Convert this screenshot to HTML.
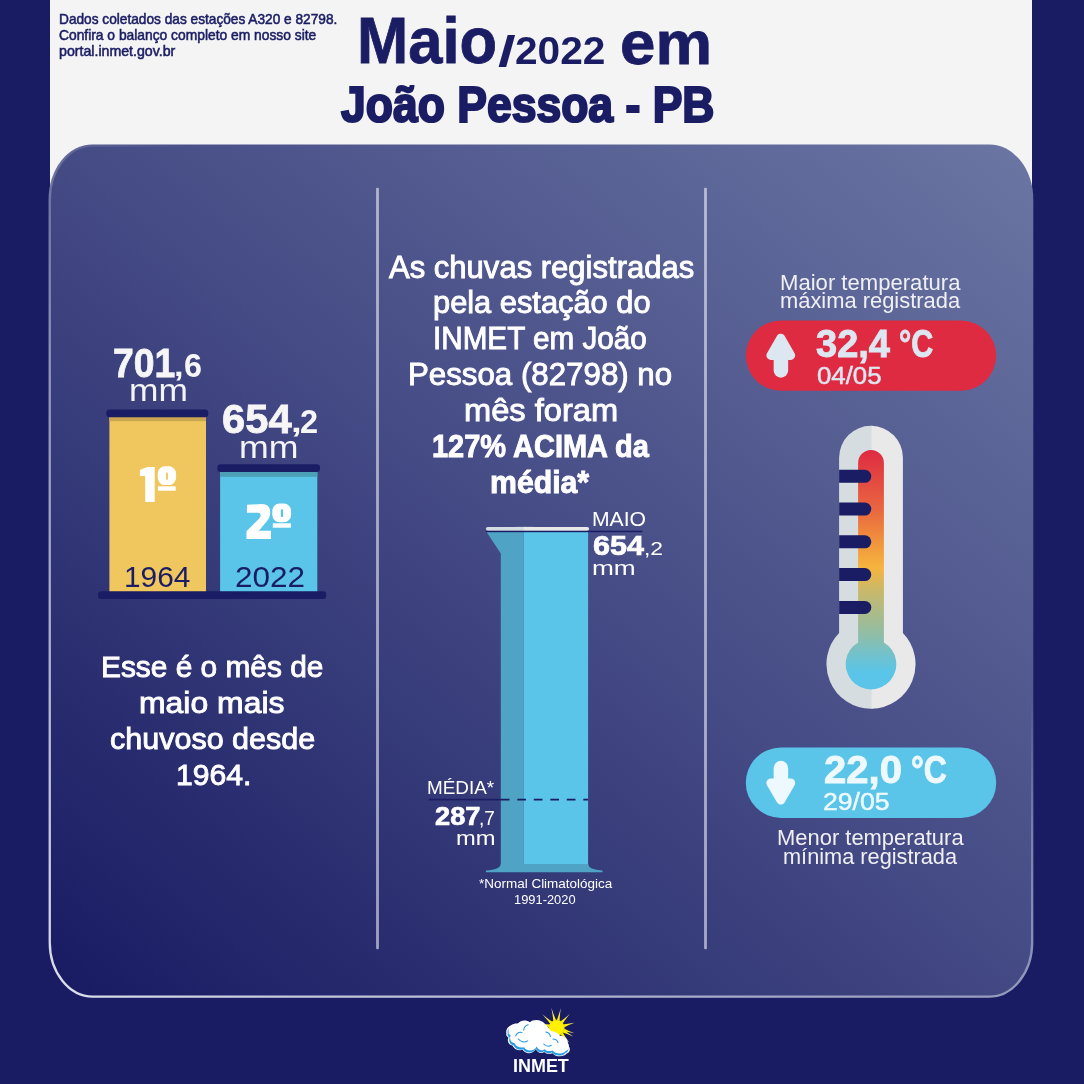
<!DOCTYPE html>
<html lang="pt-BR">
<head>
<meta charset="utf-8">
<title>Maio/2022 em João Pessoa - PB</title>
<style>
html,body{margin:0;padding:0;}
body{width:1084px;height:1084px;overflow:hidden;background:#191c63;font-family:"Liberation Sans",sans-serif;}
#root{position:relative;width:1084px;height:1084px;overflow:hidden;background:#191c63;}
#hdr{position:absolute;left:50px;top:0;width:982px;height:220px;background:#f4f4f4;}
.t{will-change:opacity;position:absolute;white-space:nowrap;line-height:0;transform-origin:0 0;margin:0;padding:0;}
svg{position:absolute;left:0;top:0;}
</style>
</head>
<body>
<div id="root">
<div id="hdr"></div>

<svg width="1084" height="1084" viewBox="0 0 1084 1084">
<defs>
<linearGradient id="pg" gradientUnits="userSpaceOnUse" x1="128.3" y1="1062.8" x2="953.7" y2="79.2">
<stop offset="0.02" stop-color="#191c63"/>
<stop offset="0.51" stop-color="#454b85"/>
<stop offset="1" stop-color="#6b76a3"/>
</linearGradient>
<linearGradient id="bd" gradientUnits="userSpaceOnUse" x1="50" y1="997" x2="479.1" y2="337.9">
<stop offset="0" stop-color="#e2e8f0" stop-opacity="0.97"/>
<stop offset="0.682" stop-color="#dde3ec" stop-opacity="0.52"/>
<stop offset="0.86" stop-color="#dde3ec" stop-opacity="0.3"/>
<stop offset="1" stop-color="#dde3ec" stop-opacity="0"/>
</linearGradient>
<radialGradient id="ray" gradientUnits="userSpaceOnUse" cx="730" cy="335" r="245">
<stop offset="0.55" stop-color="#fff200"/>
<stop offset="1" stop-color="#fffbd0"/>
</radialGradient>
<linearGradient id="thg" gradientUnits="userSpaceOnUse" x1="0" y1="450" x2="0" y2="690">
<stop offset="0" stop-color="#de2b42"/>
<stop offset="0.25" stop-color="#e9673f"/>
<stop offset="0.40" stop-color="#f2993c"/>
<stop offset="0.49" stop-color="#f6b43e"/>
<stop offset="0.585" stop-color="#c9b86a"/>
<stop offset="0.75" stop-color="#96bd9f"/>
<stop offset="0.835" stop-color="#78c1c4"/>
<stop offset="0.925" stop-color="#5ac5e8"/>
<stop offset="1" stop-color="#5ac5e8"/>
</linearGradient>
</defs>
<!-- panel -->
<rect x="48.6" y="144.4" width="984.7" height="853.4" rx="44" ry="55" fill="url(#pg)"/>
<rect x="49.75" y="145.5" width="982.4" height="851.1" rx="43" ry="54" fill="none" stroke="url(#bd)" stroke-width="2.3"/>
<!-- dividers -->
<rect x="376.1" y="187.7" width="2.8" height="761.5" rx="1" fill="#fff" fill-opacity="0.56"/>
<rect x="704.1" y="187.7" width="2.8" height="761.5" rx="1" fill="#fff" fill-opacity="0.56"/>

<!-- left bars -->
<rect x="109.4" y="413" width="96.6" height="180" fill="#f0c75e"/>
<rect x="109.4" y="413" width="96.6" height="8.2" fill="#cba552"/>
<rect x="106.3" y="409.6" width="102" height="7.6" rx="3.2" fill="#1a1d63"/>
<rect x="220.1" y="468" width="97.2" height="125" fill="#5ac5e8"/>
<rect x="220.1" y="468" width="97.2" height="8.8" fill="#4b9fb6"/>
<rect x="217.3" y="464.2" width="102.7" height="7.8" rx="3.2" fill="#1a1d63"/>
<rect x="98" y="591.3" width="228.2" height="7.6" rx="3.2" fill="#1a1d63"/>
<!-- ordinal marks -->
<path fill="#fff" d="M139.9 469.9 L147.1 466.9 L154.7 466.9 L154.7 502 L145.2 502 L145.2 475.9 L139.9 475.9 Z"/>
<path fill="#fff" fill-rule="evenodd" d="M164.90 466.20 h4.00 a7.20 7.56 0 0 1 7.20 7.56 v3.78 a7.20 7.56 0 0 1 -7.20 7.56 h-4.00 a7.20 7.56 0 0 1 -7.20 -7.56 v-3.78 a7.20 7.56 0 0 1 7.20 -7.56 z M166.95 472.50 a0.90 0.90 0 0 0 -0.95 0.90 v5.50 a0.90 0.90 0 0 0 0.95 0.90 a0.90 0.90 0 0 0 0.95 -0.90 v-5.50 a0.90 0.90 0 0 0 -0.95 -0.90 z"/>
<rect x="157.9" y="486.3" width="17.8" height="4.4" fill="#fff"/>
<path fill="#fff" transform="translate(240,497) scale(0.05165)" d="M135 150 L430 135 Q585 135 585 300 Q585 400 520 470 L365 655 L600 655 L600 815 L125 815 L125 665 L370 420 Q405 380 400 350 Q395 305 350 305 L135 305 Z"/>
<path fill="#fff" fill-rule="evenodd" d="M279.50 503.50 h4.40 a7.20 7.56 0 0 1 7.20 7.56 v3.68 a7.20 7.56 0 0 1 -7.20 7.56 h-4.40 a7.20 7.56 0 0 1 -7.20 -7.56 v-3.68 a7.20 7.56 0 0 1 7.20 -7.56 z M281.95 509.40 a0.90 0.90 0 0 0 -1.15 0.90 v5.70 a0.90 0.90 0 0 0 1.15 0.90 a0.90 0.90 0 0 0 1.15 -0.90 v-5.70 a0.90 0.90 0 0 0 -1.15 -0.90 z"/>
<rect x="272.8" y="523.3" width="18.1" height="4.4" fill="#fff"/>

<!-- gauge -->
<rect x="523.9" y="531" width="64.2" height="336" fill="#5ac5e8"/>
<path d="M485.9 531 L523.9 531 L523.9 867 L500.8 867 L500.8 553.6 Z" fill="#4fa3c4"/>
<path d="M500.8 864 L588.1 864 Q588.6 869.6 602.5 870.6 L602.5 872.3 L485.9 872.3 L485.9 870.6 Q500.3 869.6 500.8 864 Z" fill="#4fa3c4"/>
<rect x="485.9" y="526.9" width="40" height="4" rx="1.8" fill="#d3dce0"/>
<rect x="522" y="526.9" width="67.1" height="4" rx="1.8" fill="#e9e9e9"/>
<rect x="516" y="526.9" width="10" height="4" fill="#d3dce0"/>
<rect x="523.9" y="526.9" width="10" height="4" fill="#e9e9e9"/>
<rect x="485.9" y="530.7" width="156.5" height="1.5" fill="#1a1d63"/>
<rect x="428.7" y="798.8" width="72.1" height="1.6" fill="#1a1d63"/>
<path d="M500.8 799.6 H588.1" stroke="#1a1d63" stroke-width="1.6" stroke-dasharray="8.7 7.8" fill="none"/>

<!-- pills -->
<rect x="745.8" y="320.5" width="250.4" height="70.2" rx="35.1" fill="#de2b42"/>
<rect x="745.8" y="747.5" width="250.4" height="70.4" rx="35.2" fill="#5ac5e8"/>
<!-- arrows -->
<g fill="#dde7f1" stroke="#dde7f1" stroke-linejoin="round" stroke-linecap="round">
<path d="M780.8 338.2 L790.7 355.4 L770.9 355.4 Z" stroke-width="9"/>
<path d="M780.9 357 L780.9 370.4" stroke-width="14.5" fill="none"/>
</g>
<g fill="#eef9ff" stroke="#eef9ff" stroke-linejoin="round" stroke-linecap="round">
<path d="M780.8 800.1 L790.7 782.9 L770.9 782.9 Z" stroke-width="9"/>
<path d="M780.9 781 L780.9 768.1" stroke-width="14.5" fill="none"/>
</g>

<!-- thermometer -->
<g>
<path d="M872.6 425.8 L871 425.8 A31.85 31.85 0 0 0 839.1 457.6 L839.1 633 A44.6 44.6 0 0 0 871 708.7 L872.6 708.7 Z" fill="#d5dde0"/>
<path d="M871.6 425.8 A31.85 31.85 0 0 1 902.9 457.6 L902.9 633 A44.6 44.6 0 0 1 871.6 708.7 Z" fill="#e9e9e9"/>
<path d="M858.1 462.9 A12.9 12.9 0 0 1 883.9 462.9 L883.9 642.4 A25.3 25.3 0 1 1 858.1 642.4 Z" fill="url(#thg)"/>
<path d="M839.1 469.8 H864.8 a6.5 6.5 0 0 1 0 13 H839.1 Z" fill="#1a1d63"/>
<path d="M839.1 502.6 H864.8 a6.5 6.5 0 0 1 0 13 H839.1 Z" fill="#1a1d63"/>
<path d="M839.1 535.3 H864.8 a6.5 6.5 0 0 1 0 13 H839.1 Z" fill="#1a1d63"/>
<path d="M839.1 568.1 H864.8 a6.5 6.5 0 0 1 0 13 H839.1 Z" fill="#1a1d63"/>
<path d="M839.1 600.9 H864.8 a6.5 6.5 0 0 1 0 13 H839.1 Z" fill="#1a1d63"/>
</g>

<!-- INMET logo -->
<g transform="translate(496,1000) scale(0.08306)">
<g fill="url(#ray)">
<path d="M729 253 Q700 198 666 94 Q688 201 690 263 Z"/>
<path d="M766 261 Q765 199 780 100 Q753 197 727 253 Z"/>
<path d="M799 290 Q830 237 890 165 Q822 229 770 263 Z"/>
<path d="M812 333 Q866 303 945 275 Q863 292 802 294 Z"/>
<path d="M801 377 Q862 381 945 400 Q866 370 812 339 Z"/>
<path d="M792 389 Q852 404 931 438 Q857 393 810 353 Z"/>
<path d="M685 266 Q632 235 555 170 Q624 243 658 295 Z"/>
<path d="M658 294 Q597 292 548 285 Q593 304 648 333 Z"/>
<path d="M767 408 Q817 445 885 514 Q826 437 798 382 Z"/>
<path d="M648 329 Q591 353 563 365 Q593 365 655 369 Z"/>
</g>
<circle cx="730" cy="335" r="93" fill="#fff200" stroke="#c9b800" stroke-width="5"/>
<path id="cl" fill="#fff" d="M125 400 C110 330 180 290 250 300 C270 255 350 250 395 285 C430 240 540 245 580 300 C620 330 640 370 660 395 C720 400 760 430 775 455 C830 450 880 500 870 550 C905 580 890 640 850 645 C820 690 720 690 680 640 C650 655 600 650 580 625 C550 650 500 640 480 590 C450 650 360 660 320 600 C280 610 220 600 200 550 C150 540 130 490 150 450 C125 440 120 420 125 400 Z"/>
<path fill="#2a9be0" transform="translate(500,470) scale(0.955) translate(-500,-470)" d="M125 400 C110 330 180 290 250 300 C270 255 350 250 395 285 C430 240 540 245 580 300 C620 330 640 370 660 395 C720 400 760 430 775 455 C830 450 880 500 870 550 C905 580 890 640 850 645 C820 690 720 690 680 640 C650 655 600 650 580 625 C550 650 500 640 480 590 C450 650 360 660 320 600 C280 610 220 600 200 550 C150 540 130 490 150 450 C125 440 120 420 125 400 Z"/>
<path fill="#fff" transform="translate(509,445) scale(0.95) translate(-500,-470)" d="M125 400 C110 330 180 290 250 300 C270 255 350 250 395 285 C430 240 540 245 580 300 C620 330 640 370 660 395 C720 400 760 430 775 455 C830 450 880 500 870 550 C905 580 890 640 850 645 C820 690 720 690 680 640 C650 655 600 650 580 625 C550 650 500 640 480 590 C450 650 360 660 320 600 C280 610 220 600 200 550 C150 540 130 490 150 450 C125 440 120 420 125 400 Z"/>
<g fill="none" stroke="#2a9be0" stroke-width="13" stroke-linecap="round">
<path d="M238 432 C245 395 285 380 312 392"/>
<path d="M270 470 C300 512 350 512 382 492"/>
<path d="M333 362 C338 322 368 302 386 297"/>
<path d="M600 385 C630 390 650 412 655 440"/>
<path d="M575 530 C600 560 640 560 665 545"/>
<path d="M685 470 C720 470 740 490 746 512"/>
</g>
</g>
</svg>

<div class="t" style="left:58.65px;top:19.17px;font-size:14.50px;font-weight:400;color:#1a1d63;transform:scaleX(0.9433);-webkit-text-stroke:0.55px #1a1d63;">Dados coletados das estações A320 e 82798.</div>
<div class="t" style="left:59.08px;top:34.87px;font-size:14.50px;font-weight:400;color:#1a1d63;transform:scaleX(0.9527);-webkit-text-stroke:0.55px #1a1d63;">Confira o balanço completo em nosso site</div>
<div class="t" style="left:58.85px;top:50.97px;font-size:14.50px;font-weight:400;color:#1a1d63;transform:scaleX(0.9771);-webkit-text-stroke:0.55px #1a1d63;">portal.inmet.gov.br</div>
<div class="t" style="left:356.95px;top:41.31px;font-size:64.80px;font-weight:700;color:#1a1d63;transform:scaleX(0.9490);-webkit-text-stroke:0.80px #1a1d63;">Maio</div>
<div class="t" style="left:497.66px;top:51.48px;font-size:43.00px;font-weight:700;color:#1a1d63;transform:scaleX(1.4811);">/</div>
<div class="t" style="left:515.18px;top:50.26px;font-size:39.30px;font-weight:700;color:#1a1d63;transform:scaleX(1.0344);">2022</div>
<div class="t" style="left:620.01px;top:42.91px;font-size:60.50px;font-weight:700;color:#1a1d63;transform:scaleX(1.0520);-webkit-text-stroke:0.80px #1a1d63;">em</div>
<div class="t" style="left:340.93px;top:105.03px;font-size:49.20px;font-weight:700;color:#1a1d63;transform:scaleX(0.9047);-webkit-text-stroke:2.20px #1a1d63;">João Pessoa - PB</div>
<div class="t" style="left:113.11px;top:363.00px;font-size:41.50px;font-weight:700;color:#f6f6f6;transform:scaleX(0.8991);-webkit-text-stroke:0.80px #f6f6f6;">701</div>
<div class="t" style="left:173.67px;top:366.58px;font-size:28.00px;font-weight:700;color:#f6f6f6;transform:scaleX(1.2315);">,</div>
<div class="t" style="left:183.57px;top:365.72px;font-size:32.50px;font-weight:700;color:#f6f6f6;transform:scaleX(0.9960);">6</div>
<div class="t" style="left:128.60px;top:391.07px;font-size:31.20px;font-weight:400;color:#f4f4f4;transform:scaleX(1.1338);">mm</div>
<div class="t" style="left:222.24px;top:419.10px;font-size:41.50px;font-weight:700;color:#f6f6f6;transform:scaleX(1.0052);-webkit-text-stroke:0.80px #f6f6f6;">654</div>
<div class="t" style="left:290.99px;top:422.68px;font-size:28.00px;font-weight:700;color:#f6f6f6;transform:scaleX(1.3793);">,</div>
<div class="t" style="left:300.16px;top:421.82px;font-size:32.50px;font-weight:700;color:#f6f6f6;transform:scaleX(1.0012);">2</div>
<div class="t" style="left:239.08px;top:448.27px;font-size:31.20px;font-weight:400;color:#f4f4f4;transform:scaleX(1.1442);">mm</div>
<div class="t" style="left:123.86px;top:576.56px;font-size:29.50px;font-weight:400;color:#1a1d63;transform:scaleX(1.0122);">1964</div>
<div class="t" style="left:234.72px;top:576.56px;font-size:29.50px;font-weight:400;color:#1a1d63;transform:scaleX(1.0688);">2022</div>
<div class="t" style="left:101.19px;top:667.03px;font-size:29.60px;font-weight:400;color:#fff;transform:scaleX(1.0090);-webkit-text-stroke:0.90px #fff;">Esse é o mês de</div>
<div class="t" style="left:139.37px;top:703.13px;font-size:29.60px;font-weight:400;color:#fff;transform:scaleX(1.0785);-webkit-text-stroke:0.90px #fff;">maio mais</div>
<div class="t" style="left:110.25px;top:739.33px;font-size:29.60px;font-weight:400;color:#fff;transform:scaleX(1.0308);-webkit-text-stroke:0.90px #fff;">chuvoso desde</div>
<div class="t" style="left:175.79px;top:775.43px;font-size:29.60px;font-weight:400;color:#fff;transform:scaleX(1.0175);-webkit-text-stroke:0.90px #fff;">1964.</div>
<div class="t" style="left:388.87px;top:266.62px;font-size:30.50px;font-weight:400;color:#fff;transform:scaleX(1.0174);-webkit-text-stroke:0.90px #fff;">As chuvas registradas</div>
<div class="t" style="left:432.65px;top:302.22px;font-size:30.50px;font-weight:400;color:#fff;transform:scaleX(1.0102);-webkit-text-stroke:0.90px #fff;">pela estação do</div>
<div class="t" style="left:433.41px;top:338.12px;font-size:30.50px;font-weight:400;color:#fff;transform:scaleX(0.9726);-webkit-text-stroke:0.90px #fff;">INMET em João</div>
<div class="t" style="left:408.27px;top:373.72px;font-size:30.50px;font-weight:400;color:#fff;transform:scaleX(1.0248);-webkit-text-stroke:0.90px #fff;">Pessoa (82798) no</div>
<div class="t" style="left:463.53px;top:409.72px;font-size:30.50px;font-weight:400;color:#fff;transform:scaleX(1.0695);-webkit-text-stroke:0.90px #fff;">mês foram</div>
<div class="t" style="left:431.94px;top:446.22px;font-size:30.50px;font-weight:700;color:#fff;transform:scaleX(0.9499);-webkit-text-stroke:0.90px #fff;">127% ACIMA da</div>
<div class="t" style="left:490.49px;top:481.82px;font-size:30.50px;font-weight:700;color:#fff;transform:scaleX(0.9910);-webkit-text-stroke:0.90px #fff;">média*</div>
<div class="t" style="left:592.25px;top:519.06px;font-size:19.70px;font-weight:400;color:#fff;transform:scaleX(1.0738);">MAIO</div>
<div class="t" style="left:593.28px;top:546.43px;font-size:27.00px;font-weight:700;color:#fff;transform:scaleX(1.1293);-webkit-text-stroke:0.70px #fff;">654</div>
<div class="t" style="left:644.24px;top:549.21px;font-size:19.00px;font-weight:400;color:#fff;transform:scaleX(1.2041);">,2</div>
<div class="t" style="left:592.29px;top:567.81px;font-size:21.00px;font-weight:400;color:#fff;transform:scaleX(1.2502);">mm</div>
<div class="t" style="left:427.14px;top:788.14px;font-size:19.20px;font-weight:400;color:#fff;transform:scaleX(0.9837);">MÉDIA*</div>
<div class="t" style="left:434.50px;top:815.58px;font-size:26.00px;font-weight:700;color:#fff;transform:scaleX(1.0474);-webkit-text-stroke:0.70px #fff;">287</div>
<div class="t" style="left:478.69px;top:817.83px;font-size:19.50px;font-weight:400;color:#fff;transform:scaleX(0.9740);">,7</div>
<div class="t" style="left:456.26px;top:837.91px;font-size:21.00px;font-weight:400;color:#fff;transform:scaleX(1.1292);">mm</div>
<div class="t" style="left:478.50px;top:884.09px;font-size:13.00px;font-weight:400;color:#fff;transform:scaleX(1.0363);">*Normal Climatológica</div>
<div class="t" style="left:513.93px;top:900.09px;font-size:13.00px;font-weight:400;color:#fff;transform:scaleX(0.9905);">1991-2020</div>
<div class="t" style="left:779.68px;top:282.74px;font-size:21.50px;font-weight:400;color:#f0f0f4;transform:scaleX(1.0274);">Maior temperatura</div>
<div class="t" style="left:780.08px;top:301.04px;font-size:21.50px;font-weight:400;color:#f0f0f4;transform:scaleX(1.0183);">máxima registrada</div>
<div class="t" style="left:816.19px;top:344.14px;font-size:38.80px;font-weight:700;color:#dde7f1;transform:scaleX(0.9799);-webkit-text-stroke:0.90px #dde7f1;">32,4</div>
<div class="t" style="left:899.05px;top:344.14px;font-size:38.80px;font-weight:700;color:#dde7f1;transform:scaleX(0.7861);-webkit-text-stroke:0.90px #dde7f1;">°C</div>
<div class="t" style="left:816.56px;top:375.62px;font-size:23.00px;font-weight:400;color:#dde7f1;transform:scaleX(1.1215);-webkit-text-stroke:0.45px #dde7f1;">04/05</div>
<div class="t" style="left:824.15px;top:769.54px;font-size:38.80px;font-weight:700;color:#eef9ff;transform:scaleX(1.0323);-webkit-text-stroke:0.90px #eef9ff;">22,0</div>
<div class="t" style="left:910.69px;top:769.54px;font-size:38.80px;font-weight:700;color:#eef9ff;transform:scaleX(0.8228);-webkit-text-stroke:0.90px #eef9ff;">°C</div>
<div class="t" style="left:823.20px;top:801.72px;font-size:23.00px;font-weight:400;color:#eef9ff;transform:scaleX(1.1561);-webkit-text-stroke:0.45px #eef9ff;">29/05</div>
<div class="t" style="left:776.69px;top:838.04px;font-size:21.50px;font-weight:400;color:#f0f0f4;transform:scaleX(1.0205);">Menor temperatura</div>
<div class="t" style="left:783.19px;top:856.94px;font-size:21.50px;font-weight:400;color:#f0f0f4;transform:scaleX(1.0111);">mínima registrada</div>
<div class="t" style="left:513.49px;top:1065.98px;font-size:18.50px;font-weight:700;color:#fff;transform:scaleX(0.9697);">INMET</div>

</div>
</body>
</html>
